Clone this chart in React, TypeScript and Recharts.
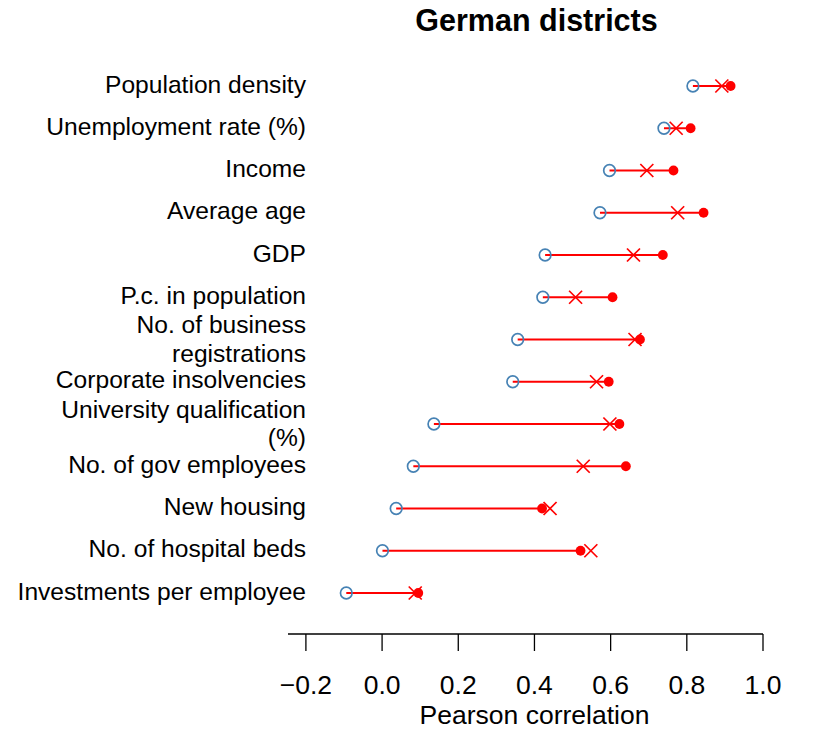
import { ScatterChart, Scatter, XAxis, YAxis, ReferenceLine } from 'recharts';

// rows top to bottom, "\n" marks where the label wraps
const categories = [
  'Population density',
  'Unemployment rate (%)',
  'Income',
  'Average age',
  'GDP',
  'P.c. in population',
  'No. of business\nregistrations',
  'Corporate insolvencies',
  'University qualification\n(%)',
  'No. of gov employees',
  'New housing',
  'No. of hospital beds',
  'Investments per employee',
];

const circleVals = [0.816, 0.74, 0.597, 0.572, 0.428, 0.422, 0.356, 0.343, 0.136, 0.082, 0.037, 0.001, -0.094];
const crossVals = [0.892, 0.772, 0.695, 0.776, 0.66, 0.508, 0.664, 0.563, 0.598, 0.528, 0.441, 0.548, 0.087];
const dotVals = [0.915, 0.81, 0.765, 0.844, 0.737, 0.605, 0.677, 0.595, 0.623, 0.64, 0.42, 0.521, 0.095];

const xTicks = [-0.2, 0, 0.2, 0.4, 0.6, 0.8, 1.0];

const rows = categories.map((_, i) => categories.length - i);
const toPoints = (vals: number[]) => vals.map((v, i) => ({ x: v, y: rows[i] }));

const circleData = toPoints(circleVals);
const crossData = toPoints(crossVals);
const dotData = toPoints(dotVals);

const FONT = '"Liberation Sans", Arial, Helvetica, sans-serif';
const RED = '#FF0000';
const BLUE = '#4682B4';

function YTick(props: any) {
  const { y, payload } = props;
  const idx = categories.length - payload.value;
  const lines = (categories[idx] || '').split('\n');
  const offsets = lines.length === 1 ? [6.5] : [-6.5, 22];
  return (
    <g>
      {lines.map((ln, k) => (
        <text key={k} x={298} y={y + offsets[k]} textAnchor="end" fontSize={24.6} fontFamily={FONT} fill="#000">
          {ln}
        </text>
      ))}
    </g>
  );
}

const OpenCircle = (p: any) => (
  <circle cx={p.cx} cy={p.cy} r={5.8} fill="none" stroke={BLUE} strokeWidth={1.7} />
);

const Cross = (p: any) => (
  <g stroke={RED} strokeWidth={1.7}>
    <line x1={p.cx - 6.5} y1={p.cy - 6.5} x2={p.cx + 6.5} y2={p.cy + 6.5} />
    <line x1={p.cx - 6.5} y1={p.cy + 6.5} x2={p.cx + 6.5} y2={p.cy - 6.5} />
  </g>
);

const Dot = (p: any) => <circle cx={p.cx} cy={p.cy} r={4.9} fill={RED} />;

const fmt = (v: number) => (v < 0 ? '\u2212' + Math.abs(v).toFixed(1) : v.toFixed(1));

export default function App() {
  return (
    <div style={{ width: 798, height: 733, marginTop: -8, fontFamily: FONT }}>
      <ScatterChart width={798} height={733} margin={{ top: 64.875, right: 43, bottom: 0, left: 0 }}>
        <text x={528.5} y={31} textAnchor="middle" fontSize={30.5} fontWeight="bold" fontFamily={FONT} fill="#000">
          German districts
        </text>
        <XAxis
          type="number"
          dataKey="x"
          domain={[-0.247, 1]}
          ticks={xTicks}
          tickFormatter={fmt}
          height={99}
          tickSize={17}
          tickMargin={24}
          axisLine={{ stroke: '#000', strokeWidth: 1.3 }}
          tickLine={{ stroke: '#000', strokeWidth: 1.3 }}
          tick={{ fontSize: 26.5, fill: '#000', fontFamily: FONT }}
          allowDataOverflow
          label={{ value: 'Pearson correlation', position: 'insideBottom', offset: 9, dx: 9, fontSize: 26.5, fill: '#000', fontFamily: FONT }}
        />
        <YAxis
          type="number"
          dataKey="y"
          domain={[0.03, 13.5]}
          ticks={rows}
          interval={0}
          width={280}
          axisLine={false}
          tickLine={false}
          tick={YTick}
          allowDataOverflow
        />
        {categories.map((c, i) => (
          <ReferenceLine
            key={c}
            segment={[
              { x: circleVals[i], y: rows[i] },
              { x: dotVals[i], y: rows[i] },
            ]}
            stroke={RED}
            strokeWidth={2}
          />
        ))}
        <Scatter data={circleData} shape={OpenCircle} isAnimationActive={false} />
        <Scatter data={crossData} shape={Cross} isAnimationActive={false} />
        <Scatter data={dotData} shape={Dot} isAnimationActive={false} />
      </ScatterChart>
    </div>
  );
}
